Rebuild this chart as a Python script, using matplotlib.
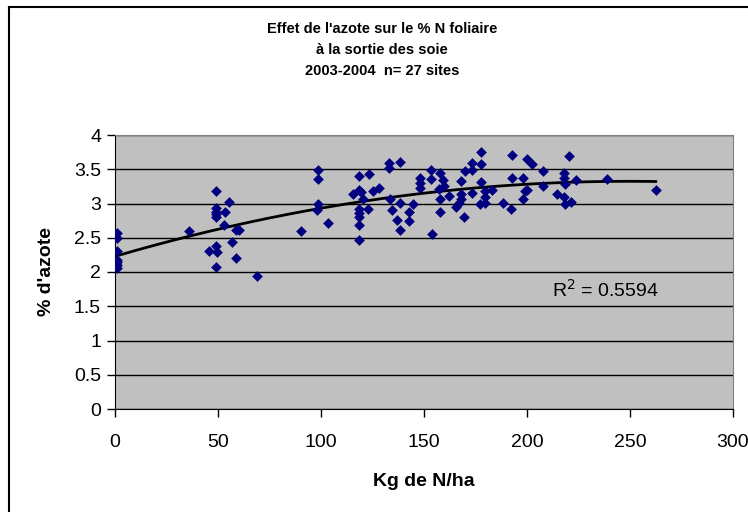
import numpy as np
import matplotlib
matplotlib.use("Agg")
import matplotlib.pyplot as plt
from matplotlib.lines import Line2D
from matplotlib.ticker import FuncFormatter, MultipleLocator

plt.rcParams['font.family'] = ['Liberation Sans', 'DejaVu Sans']

title = "Effet de l'azote sur le % N foliaire\nà la sortie des soie\n2003-2004  n= 27 sites"
xlabel = "Kg de N/ha"
ylabel = "% d'azote"
r2_text = "R$^2$ = 0.5594"

n_rate = [1, 1, 1, 1, 1, 1, 1,
          36, 49, 49, 49, 49, 49, 53.5, 53, 55.4, 58.7, 60, 56.7, 58.7, 45.7, 49, 49.5, 49,
          68.7, 90.3, 98.4, 98.4, 98.4, 98, 103.5,
          118.6, 115.4, 118.6, 119.5, 120.2, 118.6, 118.6, 118.6, 118.6, 118.6,
          122.7, 123.1, 125.1, 128.3, 132.9, 132.9, 138.4, 133.4, 134.5, 137, 138.4, 138.4,
          142.9, 142.9, 144.9, 148.1, 148.1, 148.1, 154, 153.5, 153.5,
          158, 159.1, 159.6, 157.5, 158, 158, 162, 168, 169.7, 168, 168, 167.2, 165.6, 169.2,
          173.1, 173.1, 173.3, 177.8, 177.8, 177.8, 179.4, 179.4, 177, 179.4, 183.1,
          188.3, 192.4, 192.8, 192.8, 198, 200, 202.6, 198.8, 200, 198,
          207.7, 207.7, 220.4, 217.8, 217.8, 218.3, 224, 214.5, 217.8, 218.3, 221.5,
          238.9, 262.5]
pct_n = [2.57, 2.49, 2.31, 2.18, 2.15, 2.10, 2.06,
         2.60, 3.18, 2.94, 2.88, 2.84, 2.80, 2.88, 2.69, 3.02, 2.61, 2.62, 2.44, 2.20, 2.30, 2.38, 2.29, 2.07,
         1.94, 2.60, 3.49, 3.36, 3.00, 2.91, 2.71,
         3.40, 3.14, 3.20, 3.17, 3.06, 2.92, 2.86, 2.80, 2.68, 2.46,
         2.92, 3.43, 3.18, 3.23, 3.59, 3.52, 3.61, 3.07, 2.90, 2.76, 2.62, 3.01,
         2.88, 2.75, 2.99, 3.37, 3.30, 3.23, 2.56, 3.49, 3.36,
         3.44, 3.35, 3.25, 3.21, 3.07, 2.88, 3.11, 3.33, 3.47, 3.14, 3.06, 3.01, 2.95, 2.81,
         3.59, 3.49, 3.15, 3.75, 3.57, 3.31, 3.18, 3.10, 2.99, 3.01, 3.19,
         3.01, 2.92, 3.71, 3.37, 3.37, 3.65, 3.58, 3.18, 3.19, 3.06,
         3.47, 3.26, 3.69, 3.45, 3.37, 3.29, 3.35, 3.14, 3.10, 3.00, 3.02,
         3.36, 3.19]

x = np.array(n_rate)
y = np.array(pct_n)

fig = plt.figure(figsize=(7.48, 5.12), dpi=100)
ax = fig.add_axes([115/748, 1 - 409/512, (733 - 115)/748, (409 - 135)/512])
ax.set_facecolor('#C0C0C0')

ax.set_xlim(0, 300)
ax.set_ylim(0, 4)
ax.xaxis.set_major_locator(MultipleLocator(50))
ax.yaxis.set_major_locator(MultipleLocator(0.5))
ax.yaxis.set_major_formatter(FuncFormatter(lambda v, p: f"{v:g}"))
ax.grid(axis='y', color='black', linewidth=1)
ax.set_axisbelow(True)

for s in ['top', 'right']:
    ax.spines[s].set_color('#808080')
for s in ['left', 'bottom']:
    ax.spines[s].set_color('black')
ax.tick_params(axis='both', direction='out', length=6, width=1, labelsize=14, pad=4)
ax.tick_params(axis='x', pad=12)

# trendline (polynomial fit of order 2)
coef = np.polyfit(x, y, 2)
xs = np.linspace(0, x.max(), 200)
ax.plot(xs, np.polyval(coef, xs), color='black', linewidth=2, zorder=3)

ax.scatter(x, y, marker='D', s=30, color='#000080', zorder=4, linewidths=0)

ax.text(212, 1.74, r2_text, fontsize=14, va='center', ha='left')

fig.text(382/748, 1 - 50/512, title, ha='center', va='center', fontsize=10.5,
         fontweight='bold', linespacing=1.6)
ax.set_xlabel(xlabel, fontsize=14, fontweight='bold', labelpad=16)
ax.set_ylabel(ylabel, fontsize=14, fontweight='bold', labelpad=14)

# chart-area border (only left and top edges visible in the reference)
fig.add_artist(Line2D([8.5/748, 8.5/748], [0, 1 - 6.5/512], transform=fig.transFigure,
                      color='black', linewidth=1.5))
fig.add_artist(Line2D([8.5/748, 1], [1 - 6.5/512, 1 - 6.5/512], transform=fig.transFigure,
                      color='black', linewidth=1.5))

fig.savefig('out.png', dpi=100)
